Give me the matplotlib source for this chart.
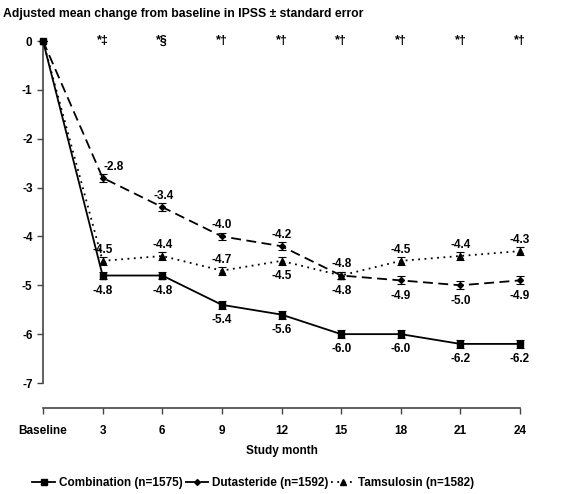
import numpy as np
import matplotlib.pyplot as plt
from matplotlib.lines import Line2D

plt.rcParams["font.family"] = ["Liberation Sans", "DejaVu Sans"]
plt.rcParams["font.weight"] = "bold"

# -----------------------------
# Data
# -----------------------------
months = ["Baseline", "3", "6", "9", "12", "15", "18", "21", "24"]
combination = [0, -4.8, -4.8, -5.4, -5.6, -6.0, -6.0, -6.2, -6.2]
dutasteride = [0, -2.8, -3.4, -4.0, -4.2, -4.8, -4.9, -5.0, -4.9]
tamsulosin = [0, -4.5, -4.4, -4.7, -4.5, -4.8, -4.5, -4.4, -4.3]
se = [0, 0.08, 0.08, 0.08, 0.08, 0.08, 0.08, 0.08, 0.08]
signif = ["", "*‡", "*§", "*†", "*†", "*†", "*†", "*†", "*†"]

# label placement: "a" above, "b" below, None = no label
comb_pos = [None, "b", "b", "b", "b", "b", "b", "b", "b"]
dut_pos = [None, "a", "a", "a", "a", "a", "b", "b", "b"]
tam_pos = [None, "a", "a", "a", "b", "b", "a", "a", "a"]

x = np.arange(len(months))
FS = 8.5

fig = plt.figure(figsize=(5.78, 4.94), dpi=100)
ax = fig.add_axes([43 / 578, 111 / 494, 477 / 578, 342 / 494])

styles = {
    "comb": dict(ls="-", marker="s", ms=5),
    "dut": dict(ls=(0, (5.5, 3)), marker="D", ms=3),
    "tam": dict(ls=(0, (1, 2.5)), marker="^", ms=5),
}

ax.errorbar(x, combination, yerr=se, color="black", lw=1.3, capsize=3,
            elinewidth=0.8, capthick=0.8, clip_on=False, zorder=4,
            **styles["comb"])
ax.errorbar(x, dutasteride, yerr=se, color="black", lw=1.3, capsize=3,
            elinewidth=0.8, capthick=0.8, clip_on=False, zorder=3,
            **styles["dut"])
ax.errorbar(x, tamsulosin, yerr=se, color="black", lw=1.3, capsize=3,
            elinewidth=0.8, capthick=0.8, clip_on=False, zorder=3,
            **styles["tam"])


def put_labels(values, pos, dx=None):
    for i, (v, p) in enumerate(zip(values, pos)):
        if p is None:
            continue
        off_x = 0 if dx is None else dx[i]
        off_y = 8 if p == "a" else -11
        ax.annotate(f"{v:.1f}", (x[i], v), xytext=(off_x, off_y),
                    textcoords="offset points", ha="center", va="center",
                    fontsize=FS, fontweight="bold")


put_labels(combination, comb_pos)
put_labels(dutasteride, dut_pos, dx=[0, 8, 1, 0, 0, 0, 0, 0, 0])
put_labels(tamsulosin, tam_pos)

for i, s in enumerate(signif):
    if s:
        ax.text(x[i], 0, s, ha="center", va="center", fontsize=9,
                fontweight="bold")

ax.set_xlim(0, 8)
ax.set_ylim(-7, 0)
ax.tick_params(axis="both", length=4, width=1, color="#444444",
               labelsize=FS)
ax.tick_params(axis="x", pad=8)
ax.set_yticks(range(0, -8, -1))
ax.set_yticklabels([str(v) for v in range(0, -8, -1)])
ax.set_xticks(x)
ax.set_xticklabels(months)
for lab in ax.get_xticklabels() + ax.get_yticklabels():
    lab.set_fontweight("bold")
    lab.set_fontsize(FS)

for side in ["top", "right"]:
    ax.spines[side].set_visible(False)
ax.spines["bottom"].set_position(("outward", 18))
ax.spines["left"].set_color("#444444")
ax.spines["bottom"].set_color("#444444")
ax.spines["left"].set_linewidth(1.2)
ax.spines["bottom"].set_linewidth(1.2)

ax.set_xlabel("Study month", fontsize=FS, fontweight="bold", labelpad=6)

fig.text(3 / 578, 1 - 14 / 494,
         "Adjusted mean change from baseline in IPSS ± standard error",
         ha="left", va="center", fontsize=8.8, fontweight="bold")

handles = [
    Line2D([], [], color="black", lw=1.3, **styles["comb"]),
    Line2D([], [], color="black", lw=1.3, **styles["dut"]),
    Line2D([], [], color="black", lw=1.3, **styles["tam"]),
]
labels = ["Combination (n=1575)", "Dutasteride (n=1592)",
          "Tamsulosin (n=1582)"]
fig.legend(handles, labels, loc="center",
           bbox_to_anchor=(253 / 578, 1 - 483 / 494), ncol=3,
           frameon=False, fontsize=FS, handlelength=2.0, handletextpad=0.3,
           columnspacing=0.2, borderaxespad=0)

fig.savefig("out.png", dpi=100)
